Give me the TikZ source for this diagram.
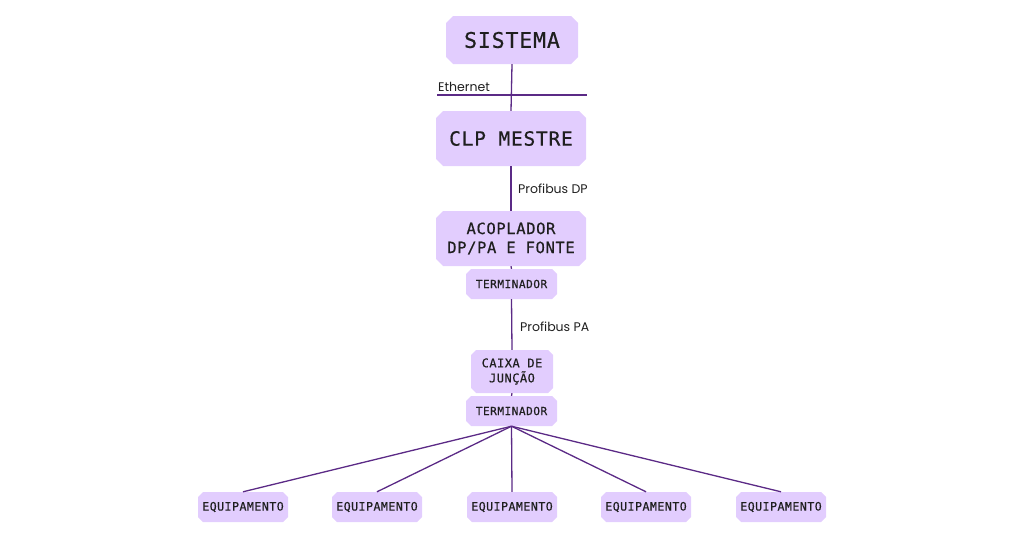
\documentclass[tikz,border=0pt]{standalone}
\usepackage{fontspec}
\setmainfont{Poppins}
\newfontfamily\boxfont{DejaVu Sans Mono}[FakeBold=0.5, LetterSpace=4]
\usetikzlibrary{shapes.misc}
\definecolor{boxfill}{HTML}{E2CDFE}
\definecolor{wire}{HTML}{5B2A86}
\begin{document}
\begin{tikzpicture}[x=1pt,y=-1pt,
  box/.style={chamfered rectangle, chamfered rectangle xsep=3.5pt, chamfered rectangle ysep=3.5pt,
    fill=boxfill, draw=none, inner sep=0pt, align=center, font=\boxfont, text=black!88},
  smallbox/.style={box, chamfered rectangle xsep=2.5pt, chamfered rectangle ysep=2.5pt, font=\boxfont\fontsize{11.2}{14}\selectfont},
  wireline/.style={draw=wire, line width=1.3pt},
  lbl/.style={font=\fontsize{12.5}{14}\selectfont, text=black!88, inner sep=0pt, anchor=west}]
\useasboundingbox (0,0) rectangle (1024,538);
\node[box, minimum width=132pt, minimum height=48pt, font=\boxfont\fontsize{21.5}{26}\selectfont] (sis) at (512,40) {SISTEMA};
\node[box, minimum width=150pt, minimum height=55pt, font=\boxfont\fontsize{19.5}{24}\selectfont] (clp) at (511,138.5) {CLP MESTRE};
\node[box, minimum width=150pt, minimum height=55pt, font=\boxfont\fontsize{15.5}{19}\selectfont] (aco) at (511,238.5) {ACOPLADOR\\DP/PA E FONTE};
\node[smallbox, minimum width=91pt, minimum height=30pt] (t1) at (511.5,284) {TERMINADOR};
\node[smallbox, minimum width=82pt, minimum height=43pt, font=\boxfont\fontsize{12}{15}\selectfont] (cx) at (512,371.5) {CAIXA DE\\JUNÇÃO};
\node[smallbox, minimum width=91pt, minimum height=30pt] (t2) at (511.5,411) {TERMINADOR};
\foreach \i/\x in {1/243,2/377,3/512,4/646,5/781}
  \node[smallbox, minimum width=90pt, minimum height=30pt, font=\boxfont\fontsize{11.6}{14}\selectfont] (e\i) at (\x,507) {EQUIPAMENTO};
\coordinate (ethL) at (437,95);
\coordinate (ethR) at (587,95);
\draw[wireline] (sis.south) -- (clp.north);
\draw[wireline] (ethL) -- (ethR);
\node[lbl, anchor=south west] (eth) at (438,92) {Ethernet};
\draw[wireline] (clp.south) -- (aco.north);
\node[lbl] (pdp) at (518,189) {Profibus DP};
\draw[wireline] (aco.south) -- (t1.north);
\draw[wireline] (t1.south) -- (cx.north);
\node[lbl] (ppa) at (520,327) {Profibus PA};
\draw[wireline] (cx.south) -- (t2.north);
\foreach \i in {1,...,5}
  \draw[wireline] (t2.south) -- (e\i.north);
\end{tikzpicture}
\end{document}
